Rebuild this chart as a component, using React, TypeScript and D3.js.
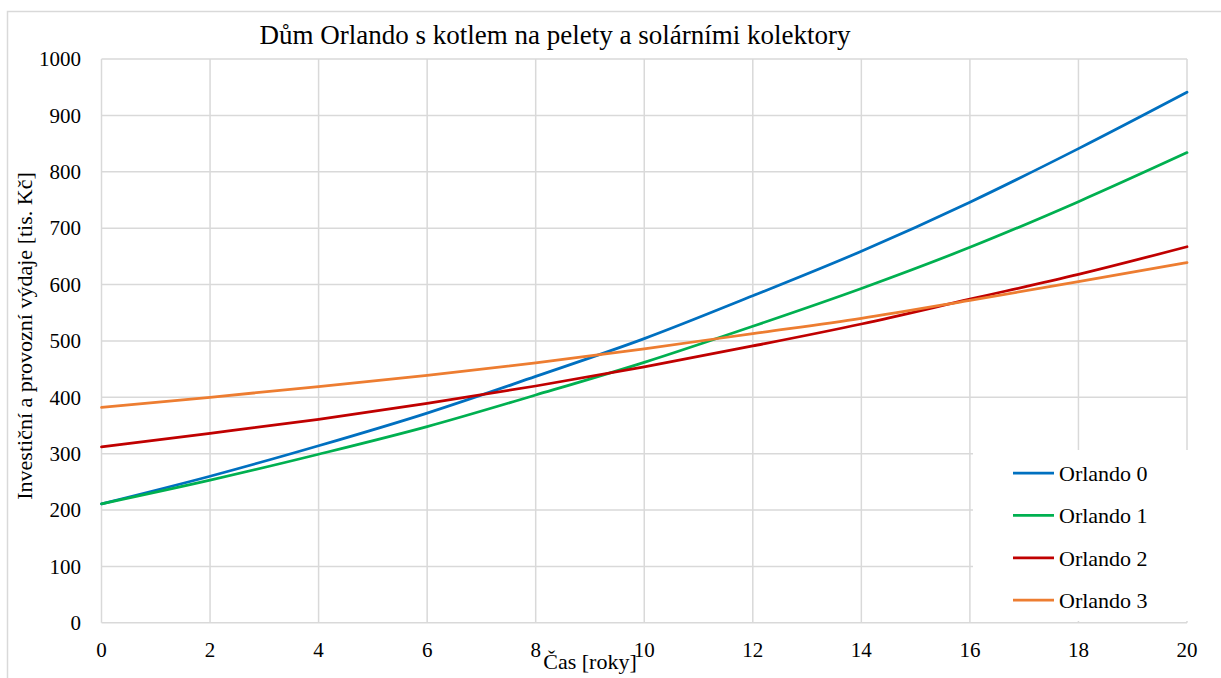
import React, { useEffect, useRef } from 'react';
import * as d3 from 'd3';

// years on the x axis
const years = [0, 2, 4, 6, 8, 10, 12, 14, 16, 18, 20];

// investment + running costs [tis. Kč]
const orlando0 = [211, 260, 314, 372, 437, 504, 580, 659, 746, 841, 941];
const orlando1 = [211, 253, 299, 348, 404, 462, 526, 593, 666, 747, 834];
const orlando2 = [312, 336, 361, 389, 420, 454, 491, 530, 574, 618, 667];
const orlando3 = [382, 400, 419, 439, 461, 486, 513, 540, 572, 605, 639];

const seriesNames = ['Orlando 0', 'Orlando 1', 'Orlando 2', 'Orlando 3'];
const seriesColors = ['#0070C0', '#00B050', '#C00000', '#ED7D31'];

const xTicks = [0, 2, 4, 6, 8, 10, 12, 14, 16, 18, 20];
const yTicks = [0, 100, 200, 300, 400, 500, 600, 700, 800, 900, 1000];

const App = () => {
  const ref = useRef<SVGSVGElement | null>(null);

  useEffect(() => {
    const width = 1221;
    const height = 678;
    const font = '"Liberation Serif", "Times New Roman", serif';
    const grid = '#d9d9d9';

    const svg = d3.select(ref.current);
    svg.selectAll('*').remove();
    svg.attr('width', width).attr('height', height);

    svg.append('rect').attr('width', width).attr('height', height).attr('fill', 'white');

    // outer chart border (runs off the right/bottom edge)
    svg
      .append('rect')
      .attr('x', 7.5)
      .attr('y', 11.5)
      .attr('width', width + 20)
      .attr('height', height + 20)
      .attr('fill', 'none')
      .attr('stroke', grid)
      .attr('stroke-width', 1.5);

    const x = d3.scaleLinear().domain([0, 20]).range([101.5, 1187]);
    const y = d3.scaleLinear().domain([0, 1000]).range([622.8, 59]);

    // gridlines
    svg
      .append('g')
      .selectAll('line')
      .data(xTicks)
      .enter()
      .append('line')
      .attr('x1', (d) => x(d))
      .attr('x2', (d) => x(d))
      .attr('y1', y(0))
      .attr('y2', y(1000))
      .attr('stroke', grid)
      .attr('stroke-width', 1.5);

    svg
      .append('g')
      .selectAll('line')
      .data(yTicks)
      .enter()
      .append('line')
      .attr('x1', x(0))
      .attr('x2', x(20))
      .attr('y1', (d) => y(d))
      .attr('y2', (d) => y(d))
      .attr('stroke', grid)
      .attr('stroke-width', 1.5);

    // tick labels
    svg
      .append('g')
      .selectAll('text')
      .data(yTicks)
      .enter()
      .append('text')
      .attr('x', 81)
      .attr('y', (d) => y(d))
      .attr('dy', '0.35em')
      .attr('text-anchor', 'end')
      .style('font-family', font)
      .style('font-size', '21px')
      .text((d) => d);

    svg
      .append('g')
      .selectAll('text')
      .data(xTicks)
      .enter()
      .append('text')
      .attr('x', (d) => x(d))
      .attr('y', 657)
      .attr('text-anchor', 'middle')
      .style('font-family', font)
      .style('font-size', '21px')
      .text((d) => d);

    // series
    const allSeries = [orlando0, orlando1, orlando2, orlando3];
    const line = d3
      .line<number>()
      .x((_, i) => x(years[i]))
      .y((d) => y(d))
      .curve(d3.curveMonotoneX);

    allSeries.forEach((values, i) => {
      svg
        .append('path')
        .datum(values)
        .attr('d', line)
        .attr('fill', 'none')
        .attr('stroke', seriesColors[i])
        .attr('stroke-width', 2.75)
        .attr('stroke-linecap', 'round');
    });

    // legend box sits on top of the grid
    const legend = svg.append('g');
    legend
      .append('rect')
      .attr('x', 973)
      .attr('y', 450)
      .attr('width', 220)
      .attr('height', 171)
      .attr('fill', 'white');

    const items = legend
      .selectAll('.legend-item')
      .data(seriesNames)
      .enter()
      .append('g')
      .attr('class', 'legend-item')
      .attr('transform', (_, i) => `translate(0, ${473 + i * 42.4})`);

    items
      .append('line')
      .attr('x1', 1013)
      .attr('x2', 1054)
      .attr('stroke', (_, i) => seriesColors[i])
      .attr('stroke-width', 2.75);

    items
      .append('text')
      .attr('x', 1059)
      .attr('dy', '0.35em')
      .style('font-family', font)
      .style('font-size', '22px')
      .text((d) => d);

    // titles
    svg
      .append('text')
      .attr('x', 555)
      .attr('y', 44)
      .attr('text-anchor', 'middle')
      .style('font-family', font)
      .style('font-size', '27px')
      .text('Dům Orlando s kotlem na pelety a solárními kolektory');

    svg
      .append('text')
      .attr('x', 590)
      .attr('y', 669)
      .attr('text-anchor', 'middle')
      .style('font-family', font)
      .style('font-size', '22px')
      .text('Čas [roky]');

    svg
      .append('text')
      .attr('transform', 'translate(32, 336) rotate(-90)')
      .attr('text-anchor', 'middle')
      .style('font-family', font)
      .style('font-size', '22px')
      .text('Investiční a provozní výdaje [tis. Kč]');
  }, []);

  return (
    <svg
      ref={ref}
      style={{ position: 'absolute', left: 0, top: 0, display: 'block' }}
    ></svg>
  );
};

export default App;
